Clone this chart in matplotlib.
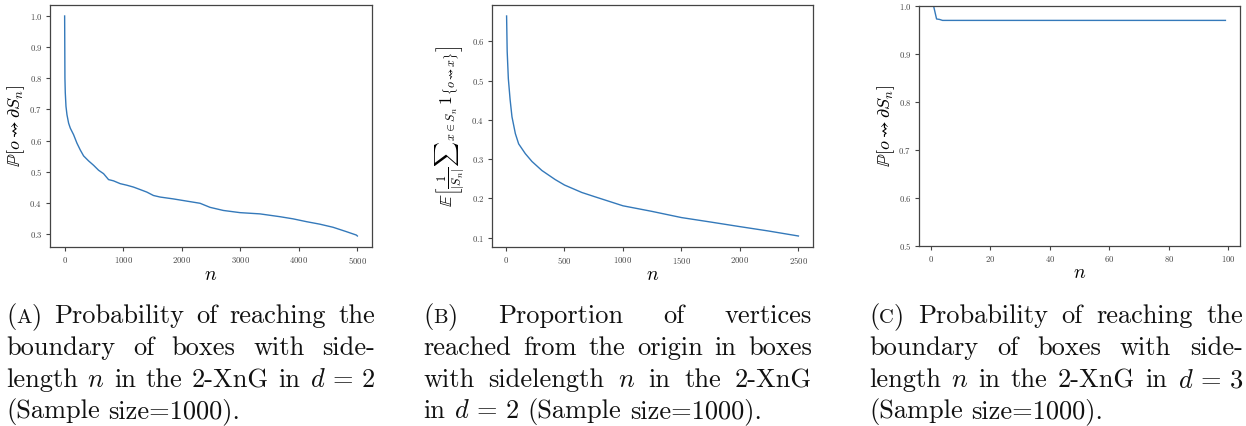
import matplotlib
matplotlib.use("Agg")
import matplotlib.pyplot as plt
import matplotlib.transforms as mtransforms

plt.rcParams["font.family"] = "serif"
plt.rcParams["font.serif"] = ["cmr10"]
plt.rcParams["mathtext.fontset"] = "cm"
plt.rcParams["axes.formatter.use_mathtext"] = True
plt.rcParams["axes.unicode_minus"] = False

# (A) d = 2, probability of reaching the boundary
n_a = [0, 5, 11, 23, 40, 68, 97, 153, 210, 267, 324, 409, 494, 580, 665, 750,
       835, 949, 1062, 1176, 1290, 1403, 1517, 1631, 1858, 2085, 2313, 2483,
       2710, 2994, 3335, 3676, 3903, 4131, 4358, 4585, 4812, 4983, 5000]
p_a = [1.0, 0.80, 0.754, 0.71, 0.683, 0.656, 0.64, 0.619, 0.592, 0.57, 0.551,
       0.535, 0.521, 0.505, 0.494, 0.475, 0.471, 0.462, 0.457, 0.451, 0.443,
       0.435, 0.424, 0.419, 0.413, 0.406, 0.399, 0.386, 0.376, 0.369, 0.365,
       0.356, 0.349, 0.34, 0.332, 0.322, 0.308, 0.297, 0.294]

# (B) d = 2, proportion of vertices reached
n_b = [5, 10, 20, 35, 51, 80, 108, 165, 222, 307, 420, 500, 648, 750, 1000,
       1244, 1500, 1741, 1997, 2239, 2500]
p_b = [0.665, 0.575, 0.505, 0.452, 0.408, 0.365, 0.339, 0.314, 0.294, 0.271,
       0.248, 0.234, 0.215, 0.205, 0.181, 0.167, 0.151, 0.140, 0.128, 0.117,
       0.104]

# (C) d = 3, probability of reaching the boundary
n_c = [1, 2, 3, 4, 99]
p_c = [1.0, 0.973, 0.972, 0.970, 0.970]

ylabel_p = r"$\mathbb{P}[o \leadsto \partial S_n]$"
ylabel_e = (r"$\mathbb{E}\left[\frac{1}{|S_n|}{\sum}_{x\in S_n}\,"
            r"\mathbf{1}_{\{o\leadsto x\}}\right]$")

W, H = 1246, 426
fig = plt.figure(figsize=(W / 100, H / 100), dpi=100)

line_color = "#3479ba"
spine_color = "#444444"


def make_axes(left, right, top, bottom):
    ax = fig.add_axes([left / W, (H - bottom) / H, (right - left) / W,
                       (bottom - top) / H])
    for s in ax.spines.values():
        s.set_color(spine_color)
        s.set_linewidth(0.9)
    ax.tick_params(labelsize=6.3, colors=spine_color, length=3, width=0.8,
                   pad=2.5)
    return ax


ax_a = make_axes(50, 372, 5, 247)
ax_a.plot(n_a, p_a, color=line_color, lw=1.0)
ax_a.set_xticks([0, 1000, 2000, 3000, 4000, 5000])
ax_a.set_yticks([0.3, 0.4, 0.5, 0.6, 0.7, 0.8, 0.9, 1.0])
ax_a.set_xlabel(r"$n$", fontsize=14, labelpad=0)
ax_a.set_ylabel(ylabel_p, fontsize=13, labelpad=2)

ax_b = make_axes(492, 813, 5, 247)
ax_b.plot(n_b, p_b, color=line_color, lw=1.0)
ax_b.set_xticks([0, 500, 1000, 1500, 2000, 2500])
ax_b.set_yticks([0.1, 0.2, 0.3, 0.4, 0.5, 0.6])
ax_b.set_xlabel(r"$n$", fontsize=14, labelpad=0)
ax_b.set_ylabel(ylabel_e, fontsize=12.5, labelpad=3)

ax_c = make_axes(919, 1240, 6, 246)
ax_c.plot(n_c, p_c, color=line_color, lw=1.0)
ax_c.set_ylim(0.5, 1.0)
ax_c.set_xticks([0, 20, 40, 60, 80, 100])
ax_c.set_yticks([0.5, 0.6, 0.7, 0.8, 0.9, 1.0])
ax_c.set_xlabel(r"$n$", fontsize=14, labelpad=0)
ax_c.set_ylabel(ylabel_p, fontsize=13, labelpad=1)

# captions, justified like LaTeX
cap_size = 19
sc = cap_size * 0.78
captions = [
    (6, 375, [
        [[("(", cap_size), ("A", sc), (")", cap_size)], "Probability", "of", "reaching", "the"],
        ["boundary", "of", "boxes", "with", "side-"],
        ["length", "$n$", "in", "the", "2-XnG", "in", "$d\\,=\\,2$"],
        ["(Sample", "size=1000)."],
    ]),
    (423, 812, [
        [[("(", cap_size), ("B", sc), (")", cap_size)], "Proportion", "of", "vertices"],
        ["reached", "from", "the", "origin", "in", "boxes"],
        ["with", "sidelength", "$n$", "in", "the", "2-XnG"],
        ["in", "$d\\,=\\,2$", "(Sample", "size=1000)."],
    ]),
    (869, 1243, [
        [[("(", cap_size), ("C", sc), (")", cap_size)], "Probability", "of", "reaching", "the"],
        ["boundary", "of", "boxes", "with", "side-"],
        ["length", "$n$", "in", "the", "2-XnG", "in", "$d\\,=\\,3$"],
        ["(Sample", "size=1000)."],
    ]),
]
baselines = [323, 355, 387, 418]

fig.canvas.draw()
renderer = fig.canvas.get_renderer()
ident = mtransforms.IdentityTransform()


def add_word(word, x, y):
    segs = word if isinstance(word, list) else [(word, cap_size)]
    texts = []
    cx = x
    for s, fs in segs:
        t = fig.text(cx, y, s, fontsize=fs, va="baseline", ha="left",
                     transform=ident, color="#111111")
        w = t.get_window_extent(renderer).width
        texts.append((t, w))
        cx += w
    return texts, cx - x


for x0, x1, lines in captions:
    for i, words in enumerate(lines):
        y = H - baselines[i]
        placed = [add_word(w, 0, y) for w in words]
        total = sum(p[1] for p in placed)
        if i < len(lines) - 1 and len(words) > 1:
            gap = (x1 - x0 - total) / (len(words) - 1)
        else:
            gap = cap_size * 100 / 72 * 0.333
        cx = x0
        for texts, width in placed:
            sx = cx
            for t, w in texts:
                t.set_x(sx)
                sx += w
            cx += width + gap

fig.savefig("out.png", dpi=100)
